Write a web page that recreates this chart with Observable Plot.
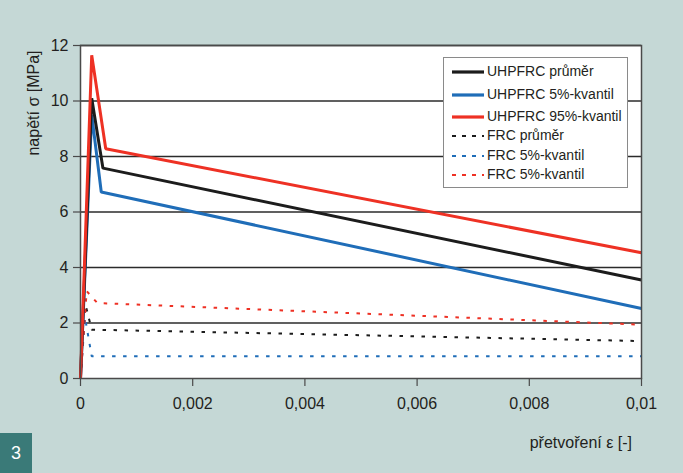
<!DOCTYPE html>
<html><head><meta charset="utf-8">
<script src="https://cdn.jsdelivr.net/npm/d3@7"></script>
<script src="https://cdn.jsdelivr.net/npm/@observablehq/plot@0.6"></script>
<style>
body{margin:0;background:#c5d8d6;}
#wrap{position:relative;width:683px;height:473px;background:#c5d8d6;font-family:"Liberation Sans",Arial,sans-serif;color:#231f20;overflow:hidden;}
#wrap svg{position:absolute;left:0;top:0;}
.lbl{position:absolute;font-size:16px;white-space:nowrap;}
#legend{position:absolute;left:443px;top:57px;width:185px;height:131px;background:#fff;border:1.5px solid #8a8a8a;box-sizing:border-box;}
.row{position:absolute;left:8px;height:16px;font-size:14px;line-height:16px;white-space:nowrap;}
.row svg{position:static !important;vertical-align:middle;margin-right:3px;}
#num{position:absolute;left:0;top:433px;width:32px;height:40px;background:#3a7a78;color:#fff;font-size:18px;text-align:center;line-height:40px;}
</style></head><body><div id="wrap"></div>
<script>
// series names (legend text as in the original)
const seriesNames = ["UHPFRC průměr","UHPFRC 5%-kvantil","UHPFRC 95%-kvantil","FRC průměr","FRC 5%-kvantil","FRC 5%-kvantil"];
const seriesColors = ["#1c1c1c","#1f6db8","#ee3124","#1c1c1c","#1f6db8","#ee3124"];
const seriesDashed = [false,false,false,true,true,true];

// strain values (x) and stresses (y, MPa) per series
const uhpfrcMeanStrain = [0, 0.0002, 0.0004, 0.01];
const uhpfrcMeanStress = [0, 10.1, 7.58, 3.55];
const uhpfrc5Strain = [0, 0.0002, 0.00037, 0.01];
const uhpfrc5Stress = [0, 9.5, 6.72, 2.52];
const uhpfrc95Strain = [0, 0.0002, 0.00045, 0.01];
const uhpfrc95Stress = [0, 11.65, 8.28, 4.53];
const frcMeanStrain = [0, 0.00009, 0.0002, 0.01];
const frcMeanStress = [0, 2.65, 1.76, 1.35];
const frc5Strain = [0, 0.00008, 0.0002, 0.01];
const frc5Stress = [0, 2.2, 0.8, 0.8];
const frc95Strain = [0, 0.00011, 0.0003, 0.01];
const frc95Stress = [0, 3.15, 2.72, 1.94];

const xTicks = [0, 0.002, 0.004, 0.006, 0.008, 0.01];
const yTicks = [0, 2, 4, 6, 8, 10, 12];
const gridValues = [2, 4, 6, 8, 10, 12];

const strains = [uhpfrcMeanStrain, uhpfrc5Strain, uhpfrc95Strain, frcMeanStrain, frc5Strain, frc95Strain];
const stresses = [uhpfrcMeanStress, uhpfrc5Stress, uhpfrc95Stress, frcMeanStress, frc5Stress, frc95Stress];

const rows = [];
strains.forEach((xs, i) => xs.forEach((x, j) => rows.push({s: i, x, y: stresses[i][j]})));

// drawing order: dashed first, then blue, black, red
const order = [3, 4, 5, 1, 0, 2];
const lineMarks = order.map(i => Plot.line(rows.filter(d => d.s === i), {
  x: "x", y: "y", stroke: seriesColors[i],
  strokeWidth: seriesDashed[i] ? 2 : 3,
  strokeDasharray: seriesDashed[i] ? "3.5,7.5" : null,
  strokeLinejoin: "miter", strokeLinecap: "butt"
}));

const chart = Plot.plot({
  width: 683, height: 473,
  marginLeft: 80, marginRight: 42, marginTop: 45, marginBottom: 95,
  style: {background: "transparent", fontFamily: "'Liberation Sans', Arial, sans-serif", fontSize: "16px", color: "#231f20"},
  x: {domain: [0, 0.01], label: null},
  y: {domain: [0, 12], label: null},
  marks: [
    Plot.frame({fill: "white", stroke: "none"}),
    Plot.ruleY(gridValues, {stroke: "#2b2b2b", strokeWidth: 1.6}),
    ...lineMarks,
    Plot.frame({stroke: "#4a4a4a", strokeWidth: 1.5}),
    Plot.axisX({ticks: xTicks, tickSize: 8, tickPadding: 11, stroke: "#4a4a4a", strokeWidth: 1.2,
      tickFormat: d => String(d).replace(".", ","), fontSize: 16}),
    Plot.axisY({ticks: yTicks, tickSize: 7, tickPadding: 5, stroke: "#4a4a4a", strokeWidth: 1.2, fontSize: 16})
  ]
});

const wrap = document.getElementById("wrap");
wrap.appendChild(chart);

// axis labels
const yl = document.createElement("div");
yl.className = "lbl";
yl.textContent = "napětí σ [MPa]";
yl.style.left = "34px"; yl.style.top = "103px";
yl.style.transform = "translate(-50%,-50%) rotate(-90deg)";
wrap.appendChild(yl);

const xl = document.createElement("div");
xl.className = "lbl";
xl.textContent = "přetvoření ε [-]";
xl.style.right = (683 - 632) + "px"; xl.style.top = "434px";
wrap.appendChild(xl);

// legend
const legend = document.createElement("div");
legend.id = "legend";
const rowY = [13, 36, 58, 77, 97, 116];
seriesNames.forEach((name, i) => {
  const r = document.createElement("div");
  r.className = "row";
  r.style.top = (rowY[i] - 8) + "px";
  const ns = "http://www.w3.org/2000/svg";
  const s = document.createElementNS(ns, "svg");
  s.setAttribute("width", 32); s.setAttribute("height", 6);
  const l = document.createElementNS(ns, "line");
  l.setAttribute("x1", 0); l.setAttribute("x2", 32); l.setAttribute("y1", 3); l.setAttribute("y2", 3);
  l.setAttribute("stroke", seriesColors[i]);
  l.setAttribute("stroke-width", seriesDashed[i] ? 2 : 3.2);
  if (seriesDashed[i]) l.setAttribute("stroke-dasharray", "4,6");
  s.appendChild(l);
  r.appendChild(s);
  r.appendChild(document.createTextNode(name));
  legend.appendChild(r);
});
wrap.appendChild(legend);

const num = document.createElement("div");
num.id = "num"; num.textContent = "3";
wrap.appendChild(num);
</script></body></html>
